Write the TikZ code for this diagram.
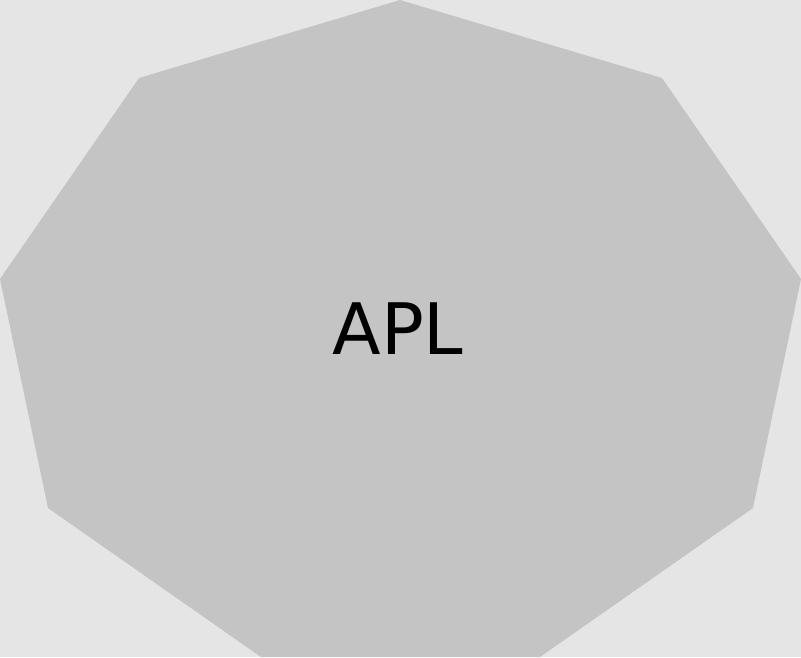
\documentclass[tikz,border=0pt]{standalone}
\usepackage{fontspec}
\setmainfont{DejaVu Sans}
\definecolor{bg}{HTML}{E5E5E5}
\definecolor{poly}{HTML}{C4C4C4}
\begin{document}
\begin{tikzpicture}[x=1pt,y=-1pt,
  lbl/.style={font=\fontsize{71}{85}\selectfont, text=black, inner sep=0pt}]
\fill[bg] (0,0) rectangle (801,657);
\useasboundingbox (0,0) rectangle (801,657);
\fill[poly] (400,0) -- (662,78) -- (801,279) -- (753,508) -- (540,657) -- (261,657) -- (48,508) -- (0,279) -- (139,78) -- cycle;
\node[lbl, anchor=base] (t) at (398,354) {APL};
\end{tikzpicture}
\end{document}
